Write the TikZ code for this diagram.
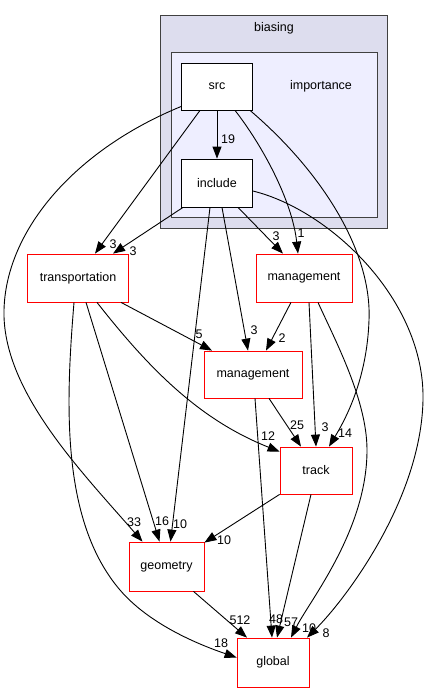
\documentclass[tikz,border=0pt]{standalone}
\usepackage{fontspec}
\setmainfont{Liberation Sans}
\usetikzlibrary{arrows.meta}
\definecolor{outerfill}{HTML}{DDDDEE}
\definecolor{innerfill}{HTML}{EEEEFF}
\definecolor{clusterline}{HTML}{404040}
\begin{document}
\begin{tikzpicture}[x=1pt,y=-1pt,
  dirbox/.style={draw=black, fill=white, line width=0.8pt, inner sep=0pt, font=\fontsize{12.5}{14}\selectfont},
  extbox/.style={draw=red, fill=white, line width=0.8pt, inner sep=0pt, font=\fontsize{12.5}{14}\selectfont},
  dep/.style={draw=black, line width=0.9pt, -{Triangle[length=12pt,width=9pt]}},
  lbl/.style={inner sep=0pt, font=\fontsize{12.5}{13}\selectfont}]
\useasboundingbox (0,0) rectangle (429,692);
% clusters
\draw[fill=outerfill, draw=clusterline, line width=0.9pt] (160,15) rectangle (387,228);
\node[lbl] (biasinglbl) at (274,28) {biasing};
\draw[fill=innerfill, draw=clusterline, line width=0.9pt] (171,52) rectangle (377,217);
\node[lbl] (importancelbl) at (321,86) {importance};
% nodes
\node[dirbox, minimum width=71pt, minimum height=47pt] (src) at (217,86.5) {src};
\node[dirbox, minimum width=71pt, minimum height=48pt] (include) at (217,183) {include};
\node[extbox, minimum width=101pt, minimum height=48pt] (transportation) at (78,278) {transportation};
\node[extbox, minimum width=96pt, minimum height=48pt] (management1) at (304,278) {management};
\node[extbox, minimum width=98pt, minimum height=47pt] (management2) at (253,374.5) {management};
\node[extbox, minimum width=72pt, minimum height=47pt] (track) at (316,470.5) {track};
\node[extbox, minimum width=75pt, minimum height=49pt] (geometry) at (166.5,566.5) {geometry};
\node[extbox, minimum width=72pt, minimum height=49pt] (global) at (273,662.5) {global};
% edges
\draw[dep] (src.south) -- (include.north);
\draw[dep] ([xshift=-17pt]src.south) -- ([xshift=17pt]transportation.north);
\draw[dep] ([xshift=-34pt]include.south) -- ([xshift=35pt]transportation.north);
\draw[dep] ([xshift=18pt]src.south) .. controls (262,145) and (292,200) .. ([xshift=-6pt]management1.north);
\draw[dep] ([xshift=21pt]include.south) -- ([xshift=-21pt]management1.north);
\draw[dep] ([yshift=-20pt]src.west) .. controls (75,150) and (6,230) .. (4,310) .. controls (2,390) and (80,470) .. ([xshift=-24pt]geometry.north);
\draw[dep] ([xshift=33pt]src.south) .. controls (320,170) and (372,250) .. (369,320) .. controls (367,380) and (345,420) .. ([xshift=13pt]track.north);
\draw[dep] ([xshift=-7pt]include.south) -- ([xshift=4pt]geometry.north);
\draw[dep] ([xshift=5pt]include.south) -- ([xshift=-5pt]management2.north);
\draw[dep] ([yshift=-8pt]include.east) .. controls (330,210) and (425,300) .. (423,400) .. controls (421,500) and (345,600) .. ([xshift=34pt]global.north);
\draw[dep] ([xshift=43pt]transportation.south) -- ([xshift=-41pt]management2.north);
\draw[dep] ([xshift=8pt]transportation.south) -- ([xshift=-7pt]geometry.north);
\draw[dep] ([xshift=19pt]transportation.south) .. controls (150,370) and (200,420) .. ([yshift=-5pt]track.north west);
\draw[dep] ([xshift=-4pt]transportation.south) .. controls (66,400) and (60,520) .. (120,590) .. controls (150,625) and (200,645) .. ([yshift=5pt]global.west);
\draw[dep] ([xshift=-13pt]management1.south) -- ([xshift=13pt]management2.north);
\draw[dep] ([xshift=5pt]management1.south) -- (track.north);
\draw[dep] ([xshift=14pt]management1.south) .. controls (335,340) and (367,400) .. (367,450) .. controls (367,530) and (310,600) .. ([xshift=18pt]global.north);
\draw[dep] ([xshift=16pt]management2.south) -- ([xshift=-15pt]track.north);
\draw[dep] ([xshift=2pt]management2.south) -- ([xshift=-1pt]global.north);
\draw[dep] (track.south west) -- ([yshift=-1pt]geometry.north east);
\draw[dep] ([xshift=-5pt]track.south) -- ([xshift=4pt]global.north);
\draw[dep] ([xshift=27pt]geometry.south) -- ([xshift=-26pt]global.north);
% edge labels
\node[lbl] (l19) at (228,139) {19};
\node[lbl] (l3a) at (113,244) {3};
\node[lbl] (l3b) at (133,251) {3};
\node[lbl] (l3c) at (276,236) {3};
\node[lbl] (l1) at (301,233) {1};
\node[lbl] (l5) at (199,334) {5};
\node[lbl] (l3d) at (254,330) {3};
\node[lbl] (l2) at (282,338) {2};
\node[lbl] (l25) at (297,425) {25};
\node[lbl] (l3e) at (325,427) {3};
\node[lbl] (l14) at (345,433) {14};
\node[lbl] (l12) at (268,436) {12};
\node[lbl] (l33) at (134,522) {33};
\node[lbl] (l16) at (162,521) {16};
\node[lbl] (l10a) at (180,524) {10};
\node[lbl] (l10b) at (224,540) {10};
\node[lbl] (l512) at (240,620) {512};
\node[lbl] (l48) at (276,619) {48};
\node[lbl] (l57) at (291,622) {57};
\node[lbl] (l10c) at (309,628) {10};
\node[lbl] (l8) at (326,633) {8};
\node[lbl] (l18) at (221,643) {18};
\end{tikzpicture}
\end{document}
